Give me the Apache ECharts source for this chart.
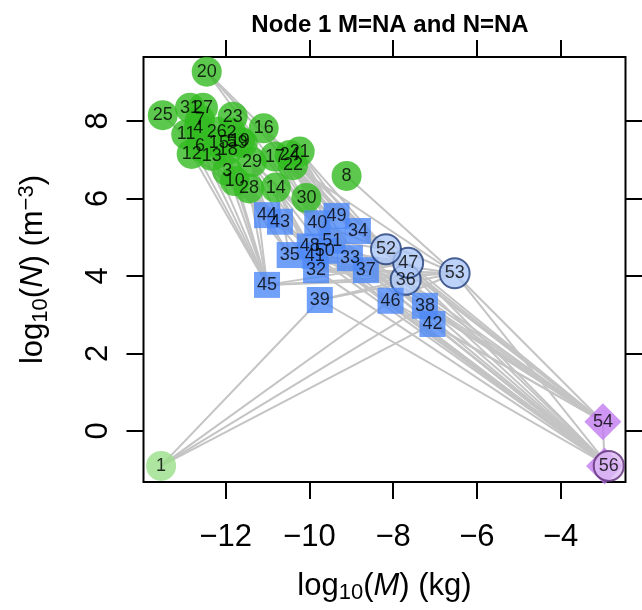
<!DOCTYPE html>
<html>
<head>
<meta charset="utf-8">
<script src="https://cdn.jsdelivr.net/npm/echarts@6/dist/echarts.min.js"></script>
<style>
html, body { margin: 0; padding: 0; background: #fff; }
#chart { width: 642px; height: 610px; }
</style>
</head>
<body>
<div id="chart"></div>
<script>
// node id, log10(M), log10(N), category
const nodeIds = [1, 2, 3, 4, 5, 6, 7, 8, 9, 10, 11, 12, 13, 14, 15, 16, 17, 18, 19, 20, 21, 22, 23, 24, 25, 26, 27, 28, 29, 30, 31,
    32, 33, 34, 35, 36, 37, 38, 39, 40, 41, 42, 43, 44, 45, 46, 47, 48, 49, 50, 51, 52, 53, 54, 55, 56]
const logM = [-13.54, -11.86, -11.96, -12.65, -11.85, -12.61, -12.61, -9.11, -11.59, -11.78, -12.94, -12.81, -12.33, -10.80, -12.16,
    -11.09, -10.82, -11.95, -11.66, -12.45, -10.23, -10.39, -11.83, -10.47, -13.50, -12.21, -12.54, -11.44, -11.37, -10.07, -12.85,
    -9.84, -9.03, -8.84, -10.47, -7.70, -8.65, -7.24, -9.75, -9.81, -9.87, -7.06, -10.70, -11.01, -11.01, -8.06, -7.64, -9.99,
    -9.35, -9.63, -9.45, -8.17, -6.53, -2.99, -2.95, -2.85]
const logN = [-0.90, 7.70, 6.71, 7.81, 7.46, 7.34, 8.03, 6.58, 7.43, 6.45, 7.65, 7.15, 7.10, 6.28, 7.42,
    7.81, 7.08, 7.25, 7.47, 9.27, 7.21, 6.86, 8.11, 7.12, 8.15, 7.72, 8.34, 6.26, 6.94, 6.01, 8.34,
    4.15, 4.46, 5.16, 4.54, 3.90, 4.15, 3.23, 3.38, 5.36, 4.52, 2.76, 5.40, 5.57, 3.77, 3.36, 4.34, 4.76,
    5.55, 4.65, 4.91, 4.69, 4.07, 0.24, -0.90, -0.90]
const category = ['basal', 'producer', 'producer', 'producer', 'producer', 'producer', 'producer', 'producer', 'producer', 'producer',
    'producer', 'producer', 'producer', 'producer', 'producer', 'producer', 'producer', 'producer', 'producer', 'producer', 'producer',
    'producer', 'producer', 'producer', 'producer', 'producer', 'producer', 'producer', 'producer', 'producer', 'producer',
    'invert', 'invert', 'invert', 'invert', 'invert2', 'invert', 'invert', 'invert', 'invert', 'invert', 'invert', 'invert', 'invert',
    'invert', 'invert', 'invert2', 'invert', 'invert', 'invert', 'invert', 'invert2', 'invert2', 'fish', 'fish', 'fish2']
const hiddenLabels = [55]

// resource -> consumer
const links = [
    [1, 39], [1, 46], [1, 38], [1, 42],
    [12, 45], [13, 45], [3, 45], [10, 45], [28, 45], [6, 45], [18, 45], [29, 45], [11, 45],
    [3, 44], [10, 44], [28, 44], [29, 44], [13, 44], [12, 44], [25, 44],
    [28, 43], [14, 43], [29, 43], [10, 43],
    [28, 35], [10, 35], [3, 35], [14, 35],
    [20, 40], [23, 40], [16, 40], [29, 40], [30, 40], [14, 40], [17, 40], [24, 40],
    [20, 49], [16, 49], [17, 49], [22, 49], [21, 49], [30, 49],
    [21, 34], [22, 34], [24, 34], [30, 34], [16, 34],
    [29, 51], [14, 51], [30, 51], [22, 51],
    [14, 48], [28, 48], [29, 48], [14, 41], [28, 41], [14, 50], [30, 50],
    [30, 33], [22, 33], [21, 33], [30, 37], [22, 37],
    [28, 32], [14, 32],
    [21, 52], [24, 52], [20, 52], [22, 53], [8, 53], [17, 47],
    [45, 36], [39, 36], [32, 36], [35, 36], [41, 36], [33, 36], [37, 36], [46, 36],
    [45, 47], [35, 47], [32, 47], [37, 47], [33, 47], [48, 47],
    [45, 53], [39, 53], [32, 53], [37, 53], [33, 53], [46, 53], [34, 53],
    [40, 52], [49, 52], [34, 52], [51, 52],
    [49, 54], [34, 54], [51, 54], [33, 54], [37, 54], [52, 54], [47, 54], [36, 54], [53, 54], [38, 54], [42, 54], [46, 54], [40, 54],
    [44, 56], [43, 56], [40, 56], [48, 56], [50, 56], [41, 56], [32, 56], [33, 56], [37, 56], [52, 56], [47, 56], [36, 56],
    [53, 56], [38, 56], [42, 56], [46, 56], [39, 56], [54, 55]
]

const xTicks = [-12, -10, -8, -6, -4]
const yTicks = [0, 2, 4, 6, 8]
const xRange = [-13.96, -2.45]
const yRange = [-1.316, 9.65]

const FONT = 'Liberation Sans, Arial, Helvetica, sans-serif'
const styles = {
    basal: { symbol: 'circle', size: 30, color: '#98df8a', border: null },
    producer: { symbol: 'circle', size: 30, color: '#33bb22', border: null },
    invert: { symbol: 'rect', size: 26, color: '#4d88f7', border: null },
    invert2: { symbol: 'circle', size: 30, color: '#aec8f7', border: '#1f3c78' },
    fish: { symbol: 'diamond', size: 37, color: '#c27bef', border: null },
    fish2: { symbol: 'circle', size: 30, color: '#dcbaf2', border: '#5c2d75' }
}

const pos = {}
nodeIds.forEach((id, i) => { pos[id] = [logM[i], logN[i]] })

const nodeData = nodeIds.map((id, i) => {
    const s = styles[category[i]]
    return {
        name: String(id),
        value: [logM[i], logN[i]],
        symbol: s.symbol,
        symbolSize: s.size,
        itemStyle: {
            color: s.color,
            borderColor: s.border || s.color,
            borderWidth: s.border ? 2 : 0
        }
    }
})
const labelData = nodeIds.map((id, i) => ({ name: String(id), value: [logM[i], logN[i]] }))
    .filter(d => hiddenLabels.indexOf(+d.name) < 0)
const linkData = links.map(l => ({ coords: [pos[l[0]], pos[l[1]]] }))

const minus = v => String(v).replace('-', '\u2212')
const tickStyle = { show: true, inside: false, length: 17, lineStyle: { color: '#000', width: 2 } }
const noLine = { show: false, onZero: false }

const myChart = echarts.init(document.getElementById('chart'))
const option = {
    animation: false,
    backgroundColor: '#fff',
    title: {
        text: 'Node 1 M=NA and N=NA',
        left: 385,
        top: 8,
        textAlign: 'center',
        textStyle: { fontFamily: FONT, fontSize: 24, fontWeight: 'bold', color: '#000' }
    },
    grid: {
        left: 143.5, right: 16.5, top: 57, bottom: 128,
        show: true, borderColor: '#000', borderWidth: 2, backgroundColor: '#fff'
    },
    xAxis: [
        {
            type: 'value', min: xRange[0], max: xRange[1], position: 'bottom',
            axisLine: noLine,
            axisTick: Object.assign({ customValues: xTicks }, tickStyle),
            axisLabel: { customValues: xTicks, formatter: minus, margin: 40, fontSize: 31, fontFamily: FONT, color: '#000' },
            splitLine: { show: false },
            name: '{t|log}{s|10}{t|(}{i|M}{t|) (kg)}',
            nameLocation: 'middle',
            nameGap: 86,
            nameTextStyle: {
                rich: {
                    t: { fontSize: 31, fontFamily: FONT, color: '#000' },
                    s: { fontSize: 22, fontFamily: FONT, color: '#000', padding: [14, 0, 0, 0] },
                    i: { fontSize: 31, fontFamily: FONT, fontStyle: 'italic', color: '#000' }
                }
            }
        },
        {
            type: 'value', min: xRange[0], max: xRange[1], position: 'top',
            axisLine: noLine,
            axisTick: Object.assign({ customValues: xTicks }, tickStyle),
            axisLabel: { show: false },
            splitLine: { show: false }
        }
    ],
    yAxis: [
        {
            type: 'value', min: yRange[0], max: yRange[1], position: 'left',
            axisLine: noLine,
            axisTick: Object.assign({ customValues: yTicks }, tickStyle),
            axisLabel: { customValues: yTicks, rotate: 90, margin: 30, fontSize: 31, fontFamily: FONT, color: '#000' },
            splitLine: { show: false },
            name: '{t|log}{s|10}{t|(}{i|N}{t|) (m}{p|\u22123}{t|)}',
            nameLocation: 'middle',
            nameGap: 92,
            nameTextStyle: {
                rich: {
                    t: { fontSize: 31, fontFamily: FONT, color: '#000' },
                    s: { fontSize: 22, fontFamily: FONT, color: '#000', padding: [14, 0, 0, 0] },
                    p: { fontSize: 22, fontFamily: FONT, color: '#000', padding: [0, 0, 14, 0] },
                    i: { fontSize: 31, fontFamily: FONT, fontStyle: 'italic', color: '#000' }
                }
            }
        },
        {
            type: 'value', min: yRange[0], max: yRange[1], position: 'right',
            axisLine: noLine,
            axisTick: Object.assign({ customValues: yTicks }, tickStyle),
            axisLabel: { show: false },
            splitLine: { show: false }
        }
    ],
    series: [
        {
            type: 'lines',
            coordinateSystem: 'cartesian2d',
            xAxisIndex: 0, yAxisIndex: 0,
            silent: true,
            z: 2,
            lineStyle: { color: '#c4c4c4', width: 2, opacity: 1 },
            data: linkData
        },
        {
            type: 'scatter',
            xAxisIndex: 0, yAxisIndex: 0,
            silent: true,
            z: 3,
            data: nodeData
        },
        {
            type: 'scatter',
            xAxisIndex: 0, yAxisIndex: 0,
            silent: true,
            z: 4,
            symbolSize: 1,
            itemStyle: { color: 'rgba(0,0,0,0)' },
            label: {
                show: true, position: 'inside', formatter: '{b}',
                fontSize: 18, fontFamily: FONT, color: '#000'
            },
            data: labelData
        }
    ]
}
myChart.setOption(option)
</script>
</body>
</html>
